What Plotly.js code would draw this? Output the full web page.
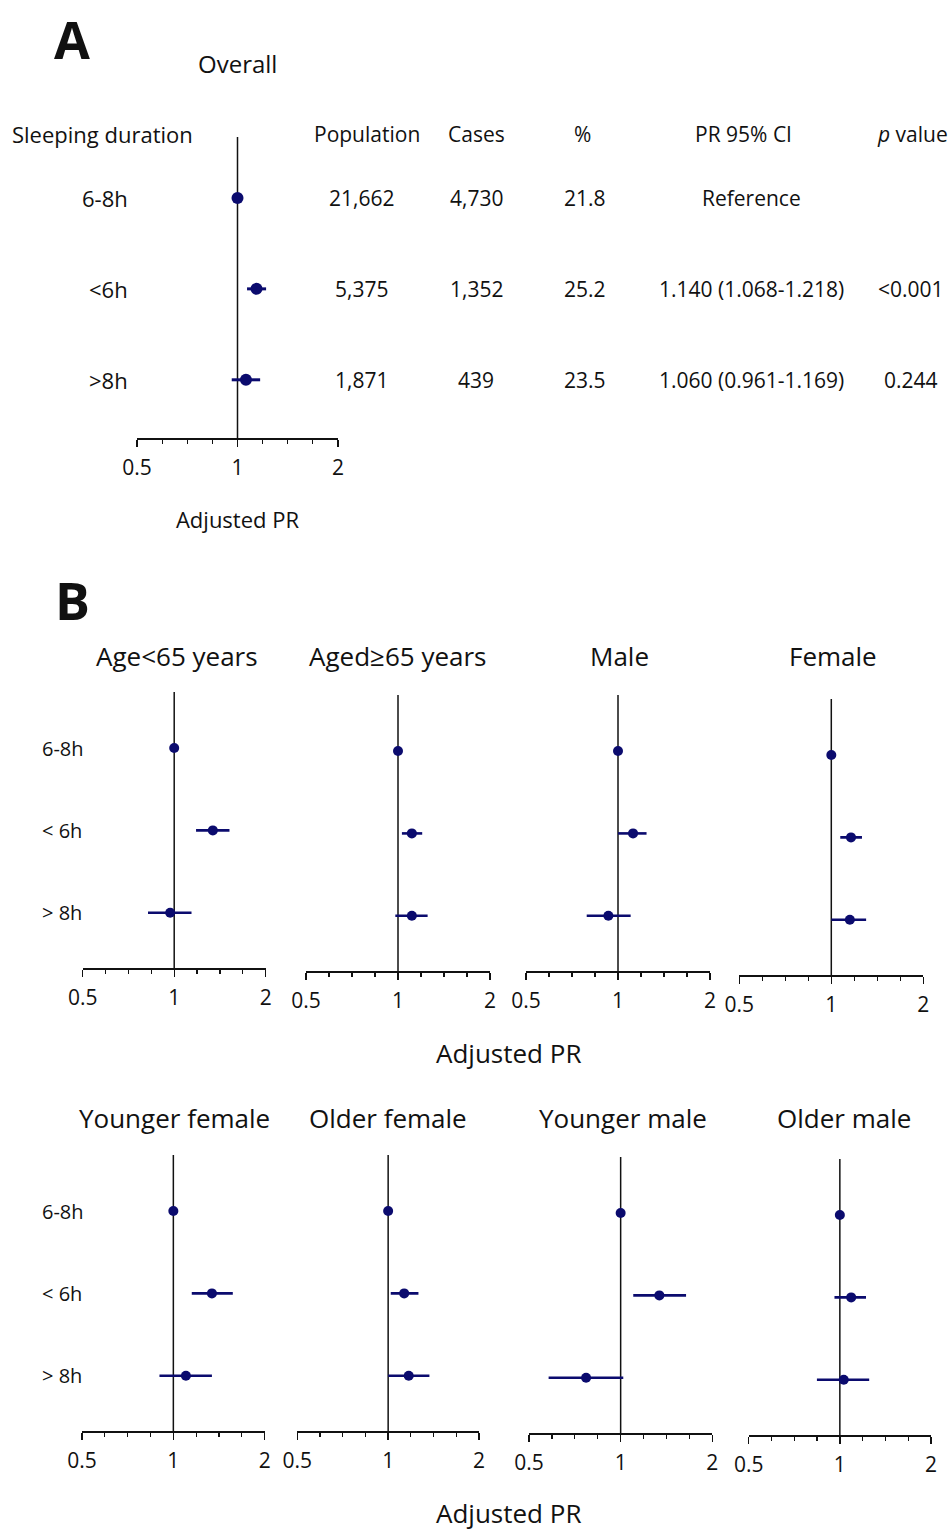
<!DOCTYPE html>
<html><head><meta charset="utf-8">
<script src="https://cdn.plot.ly/plotly-3.0.1.min.js"></script>
<style>body{margin:0;background:#fff}</style>
</head><body><div id="chart" style="width:952px;height:1530px"></div>
<script>
// ---------- DATA ----------
const sleepRows = ['6-8h', '<6h', '>8h'];
const sleepRowsB = ['6-8h', '< 6h', '> 8h'];

const overallPR = [1, 1.140, 1.060];
const overallLo = [1, 1.068, 0.961];
const overallHi = [1, 1.218, 1.169];

const tableHeaders = ['Population', 'Cases', '%', 'PR 95% CI', '<i>p</i> value'];
const population = ['21,662', '5,375', '1,871'];
const cases = ['4,730', '1,352', '439'];
const percent = ['21.8', '25.2', '23.5'];
const prCI = ['Reference', '1.140 (1.068-1.218)', '1.060 (0.961-1.169)'];
const pValue = ['', '<0.001', '0.244'];

const subgroupNames = ['Age<65 years', 'Aged≥65 years', 'Male', 'Female',
                       'Younger female', 'Older female', 'Younger male', 'Older male'];

const prAgeUnder65 = [1, 1.34, 0.97], loAgeUnder65 = [1, 1.18, 0.82], hiAgeUnder65 = [1, 1.52, 1.14];
const prAge65Plus  = [1, 1.11, 1.11], loAge65Plus  = [1, 1.03, 0.98], hiAge65Plus  = [1, 1.20, 1.25];
const prMale       = [1, 1.12, 0.93], loMale       = [1, 1.00, 0.79], hiMale       = [1, 1.24, 1.10];
const prFemale     = [1, 1.16, 1.15], loFemale     = [1, 1.07, 1.00], hiFemale     = [1, 1.26, 1.30];
const prYoungFem   = [1, 1.34, 1.10], loYoungFem   = [1, 1.15, 0.90], hiYoungFem   = [1, 1.57, 1.34];
const prOldFem     = [1, 1.13, 1.17], loOldFem     = [1, 1.02, 1.00], hiOldFem     = [1, 1.26, 1.37];
const prYoungMale  = [1, 1.34, 0.77], loYoungMale  = [1, 1.10, 0.58], hiYoungMale  = [1, 1.64, 1.02];
const prOldMale    = [1, 1.09, 1.03], loOldMale    = [1, 0.96, 0.84], hiOldMale    = [1, 1.22, 1.25];

const xTickVals = [0.5, 1, 2];
const xTickText = ['0.5', '1', '2'];

// ---------- LAYOUT HELPERS ----------
const W = 952, H = 1530;
const NAVY = '#0b0b6e', INK = '#111';
const FONT = 'Open Sans, Noto Sans, sans-serif';
const px = v => v / W;
const py = v => 1 - v / H;

const groupSeries = [
  [prAgeUnder65, loAgeUnder65, hiAgeUnder65],
  [prAge65Plus, loAge65Plus, hiAge65Plus],
  [prMale, loMale, hiMale],
  [prFemale, loFemale, hiFemale],
  [prYoungFem, loYoungFem, hiYoungFem],
  [prOldFem, loOldFem, hiOldFem],
  [prYoungMale, loYoungMale, hiYoungMale],
  [prOldMale, loOldMale, hiOldMale]
];

// panel boxes (pixels): x0, x1, top, bottom
const panelBoxes = [
  {x0: 137, x1: 338, top: 137, bottom: 438},
  {x0: 82.7, x1: 265.7, top: 692, bottom: 968},
  {x0: 306, x1: 490, top: 695, bottom: 971},
  {x0: 526, x1: 710, top: 695, bottom: 971},
  {x0: 739.3, x1: 923.3, top: 699, bottom: 975},
  {x0: 82, x1: 264.7, top: 1155, bottom: 1431},
  {x0: 297.3, x1: 479, top: 1155, bottom: 1431},
  {x0: 529, x1: 712.3, top: 1157, bottom: 1433},
  {x0: 748.7, x1: 931, top: 1159, bottom: 1435}
];
const titleCenters = [177, 398, 619, 833, 174, 388, 623, 844];

const minorVals = [-3, -2, -1, 1, 2, 3].map(k => Math.pow(2, k / 4));

const traces = [];
const layout = {
  width: W, height: H,
  margin: {l: 0, r: 0, t: 0, b: 0},
  paper_bgcolor: '#fff', plot_bgcolor: 'rgba(0,0,0,0)',
  showlegend: false,
  font: {family: FONT, color: INK},
  annotations: [], shapes: []
};

function addPanel(i, pr, lo, hi, cats, isA) {
  const sfx = i === 0 ? '' : String(i + 1);
  const b = panelBoxes[i];
  traces.push({
    type: 'scatter', mode: 'markers',
    x: pr, y: cats,
    xaxis: 'x' + sfx, yaxis: 'y' + sfx,
    marker: {color: NAVY, size: isA ? 12 : 10},
    error_x: {
      type: 'data', symmetric: false,
      array: hi.map((h, k) => h - pr[k]),
      arrayminus: lo.map((l, k) => pr[k] - l),
      color: NAVY, thickness: isA ? 3 : 2.6, width: 0
    },
    hoverinfo: 'x+y', cliponaxis: false
  });
  layout['xaxis' + sfx] = {
    type: 'log', domain: [px(b.x0), px(b.x1)], anchor: 'y' + sfx,
    range: [Math.log10(0.5), Math.log10(2)],
    tickmode: 'array', tickvals: xTickVals, ticktext: xTickText,
    ticks: 'outside', ticklen: 7, tickwidth: 1.4, tickcolor: INK,
    ticklabelstandoff: 3,
    showline: true, linecolor: INK, linewidth: 1.5,
    showgrid: false, zeroline: false,
    tickfont: {size: 21, color: INK, family: FONT},
    minor: {tickvals: minorVals, ticks: 'outside', ticklen: 4, tickwidth: 1.2, tickcolor: INK, showgrid: false},
    title: isA ? {text: 'Adjusted PR', font: {size: 22, color: INK, family: FONT}, standoff: 33} : {text: ''},
    fixedrange: true
  };
  layout['yaxis' + sfx] = {
    type: 'category', domain: [py(b.bottom), py(b.top)], anchor: 'x' + sfx,
    range: isA ? [2.64, -0.67] : [2.67, -0.68],
    showline: false, showgrid: false, zeroline: false,
    showticklabels: false, ticks: '', fixedrange: true
  };
  layout.shapes.push({
    type: 'line', xref: 'x' + sfx, yref: 'y' + sfx + ' domain',
    x0: 1, x1: 1, y0: 0, y1: 1,
    line: {color: INK, width: 1.5}, layer: 'below'
  });
}

addPanel(0, overallPR, overallLo, overallHi, sleepRows, true);
groupSeries.forEach((g, j) => addPanel(j + 1, g[0], g[1], g[2], sleepRowsB, false));

const A = layout.annotations;
function txt(text, x, y, size, opts) {
  A.push(Object.assign({
    text: text, x: x, y: y, xref: 'paper', yref: 'paper',
    xanchor: 'center', yanchor: 'middle', showarrow: false,
    font: {size: size, color: INK, family: FONT}
  }, opts || {}));
}

// Panel letters
txt('<b>A</b>', px(72), py(38), 52);
txt('<b>B</b>', px(72), py(600), 52);

// Panel A headings
txt('Overall', px(237), py(64), 24);
txt('Sleeping duration', px(10), py(134), 22, {xanchor: 'left'});
const headerX = [367, 476, 582, 743, 912];
const valueX = [361, 476, 585, 751, 911];
tableHeaders.forEach((h, c) => txt(h, px(headerX[c]), py(134), 21));
const columns = [population, cases, percent, prCI, pValue];
sleepRows.forEach((r, k) => {
  A.push({text: r, x: px(130), y: k, xref: 'paper', yref: 'y', xanchor: 'right', yanchor: 'middle',
          showarrow: false, font: {size: 22, color: INK, family: FONT}});
  columns.forEach((col, c) => {
    if (col[k] === '') return;
    A.push({text: col[k], x: px(valueX[c]), y: k, xref: 'paper', yref: 'y', xanchor: 'center', yanchor: 'middle',
            showarrow: false, font: {size: 21, color: INK, family: FONT}});
  });
});

// Panel B titles
subgroupNames.forEach((n, j) => txt(n, px(titleCenters[j]), py(j < 4 ? 656 : 1118), 26));

// Panel B row labels (left column only)
['y2', 'y6'].forEach(ya => {
  sleepRowsB.forEach((r, k) => {
    A.push({text: r, x: px(40), y: k, xref: 'paper', yref: ya, xanchor: 'left', yanchor: 'middle',
            showarrow: false, font: {size: 20, color: INK, family: FONT}});
  });
});

// Panel B axis titles
txt('Adjusted PR', px(508), py(1053), 26);
txt('Adjusted PR', px(508), py(1513), 26);

Plotly.newPlot('chart', traces, layout, {staticPlot: true, displayModeBar: false});
</script>
</body></html>
